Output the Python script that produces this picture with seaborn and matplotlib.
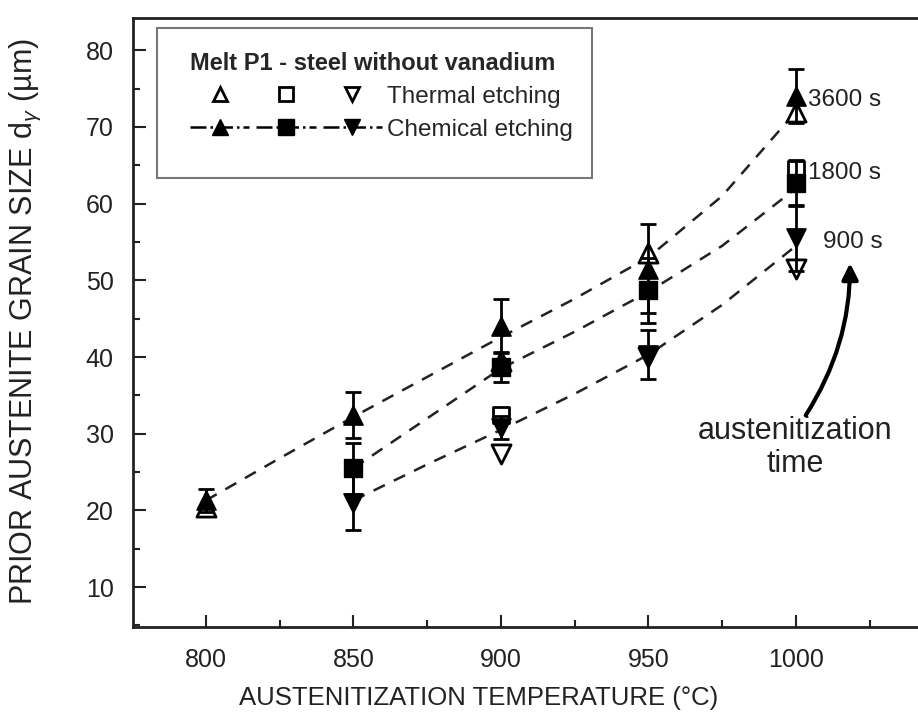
import matplotlib
matplotlib.use('Agg')
import matplotlib.pyplot as plt
import seaborn as sns
from matplotlib.lines import Line2D
from matplotlib.legend_handler import HandlerTuple
from matplotlib.patches import Rectangle
from matplotlib.ticker import MultipleLocator

# chemical etching (filled markers, with error bars)
t_3600 = [800, 850, 900, 950, 1000]
chem_3600 = [21.3, 32.5, 44.0, 51.5, 74.0]
err_3600 = [1.5, 3.0, 3.5, 5.8, 3.5]

t_1800 = [850, 900, 950, 1000]
chem_1800 = [25.5, 38.7, 48.7, 62.7]
err_1800 = [3.3, 2.0, 4.2, 3.0]

t_900 = [850, 900, 950, 1000]
chem_900 = [21.0, 30.8, 40.3, 55.5]
err_900 = [3.5, 1.5, 3.2, 4.3]

# thermal etching (open markers)
th_t_3600 = [800, 900, 950, 1000]
th_3600 = [20.5, 39.5, 53.5, 72.0]
th_t_1800 = [900, 1000]
th_1800 = [32.5, 64.5]
th_t_900 = [900, 950, 1000]
th_900 = [27.3, 40.0, 51.5]

# dashed trend lines
tr_t_3600 = [800, 825, 850, 875, 900, 925, 950, 975, 1000]
tr_3600 = [21.3, 26.8, 32.2, 37.4, 42.6, 47.6, 53.0, 61.0, 72.0]
tr_t_1800 = [850, 875, 900, 925, 950, 975, 1000]
tr_1800 = [25.5, 32.0, 38.5, 43.3, 48.5, 54.5, 62.0]
tr_t_900 = [850, 875, 900, 925, 950, 975, 1000]
tr_900 = [21.3, 26.0, 30.5, 35.2, 40.3, 46.8, 54.5]

sns.set_style('ticks')
plt.rcParams['font.family'] = ['Liberation Sans', 'DejaVu Sans']
plt.rcParams['mathtext.fontset'] = 'custom'
plt.rcParams['mathtext.rm'] = 'Liberation Sans'
plt.rcParams['mathtext.it'] = 'Liberation Sans:italic'

ink = '#222222'
fig = plt.figure(figsize=(9.18, 7.22), dpi=100)
ax = fig.add_axes([133 / 918, 95 / 722, 810.5 / 918, 609 / 722])

dash = (0, (5, 4))
for tt, vv in [(tr_t_3600, tr_3600), (tr_t_1800, tr_1800), (tr_t_900, tr_900)]:
    sns.lineplot(x=tt, y=vv, ax=ax, color=ink, lw=1.8, linestyle=dash, zorder=1)

ms = 190
sns.scatterplot(x=th_t_3600, y=th_3600, ax=ax, marker='^', s=ms, facecolor='white',
                edgecolor='black', linewidth=2, zorder=2)
sns.scatterplot(x=th_t_1800, y=th_1800, ax=ax, marker='s', s=120, facecolor='white',
                edgecolor='black', linewidth=2, zorder=2)
sns.scatterplot(x=th_t_900, y=th_900, ax=ax, marker='v', s=ms, facecolor='white',
                edgecolor='black', linewidth=2, zorder=2)

for tt, vv, ee, mk, sz in [(t_3600, chem_3600, err_3600, '^', ms),
                           (t_1800, chem_1800, err_1800, 's', 150),
                           (t_900, chem_900, err_900, 'v', ms)]:
    ax.errorbar(tt, vv, yerr=ee, fmt='none', ecolor='black', elinewidth=2,
                capsize=6, capthick=2, zorder=3)
    sns.scatterplot(x=tt, y=vv, ax=ax, marker=mk, s=sz, color='black',
                    edgecolor='black', zorder=4)

ax.set_xlim(775.3, 1050)
ax.set_ylim(4.8, 84.2)
ax.set_xticks([800, 850, 900, 950, 1000])
ax.set_yticks([10, 20, 30, 40, 50, 60, 70, 80])
ax.xaxis.set_minor_locator(MultipleLocator(25))
ax.yaxis.set_minor_locator(MultipleLocator(5))
ax.tick_params(which='both', direction='in', width=1.5, labelsize=18, colors=ink)
ax.tick_params(which='major', length=9)
ax.tick_params(which='minor', length=5)
ax.tick_params(axis='x', which='major', pad=15)
ax.tick_params(axis='y', which='major', pad=14)
for s in ax.spines.values():
    s.set_linewidth(2)
    s.set_color(ink)
ax.set_xlabel('AUSTENITIZATION TEMPERATURE (°C)', fontsize=18.5, color=ink)
ax.xaxis.set_label_coords((479 - 133) / 810.5, -0.097)
ax.set_ylabel(r'PRIOR AUSTENITE GRAIN SIZE d$_\gamma$ (µm)', fontsize=22, color=ink)
ax.yaxis.set_label_coords(-(133 - 43) / 810.5, (722 - 322 - 95) / 609)

# legend
ax.add_patch(Rectangle((157 / 918, 1 - 178 / 722), 435 / 918, 150 / 722,
                       transform=fig.transFigure, fill=False, edgecolor='#777777',
                       lw=1.5, zorder=5, clip_on=False))
open_h = tuple(Line2D([], [], marker=m, ls='none', ms=10, mfc='white', mec='black', mew=2)
               for m in ['^', 's', 'v'])
fill_h = tuple(Line2D([], [], marker=m, ls='-.', lw=1.8, ms=11, color='black')
               for m in ['^', 's', 'v'])
leg = ax.legend([open_h, fill_h], ['Thermal etching', 'Chemical etching'],
                handler_map={tuple: HandlerTuple(ndivide=None, pad=0.3)},
                title='Melt P1 - steel without vanadium', fontsize=17.5,
                title_fontproperties={'weight': 'bold', 'size': 17},
                frameon=False, handlelength=7.9, handletextpad=0.2, labelspacing=0.45,
                loc='upper left', bbox_to_anchor=(190 / 918, 1 - 52 / 722),
                bbox_transform=fig.transFigure, borderpad=0, borderaxespad=0)
leg._legend_box.align = 'left'

ax.text(1004.0, 73.5, '3600 s', fontsize=17.5, va='center', ha='left', color=ink)
ax.text(1004.0, 64.0, '1800 s', fontsize=17.5, va='center', ha='left', color=ink)
ax.text(1009.0, 55.0, '900 s', fontsize=17.5, va='center', ha='left', color=ink)
ax.text(999.8, 28.2, 'austenitization\ntime', fontsize=22, ha='center', va='center',
        color=ink, linespacing=1.12)
ax.annotate('', xy=(1018.3, 52.6), xytext=(1003.3, 32.4),
            arrowprops=dict(arrowstyle='-|>', color='black', lw=3, mutation_scale=24,
                            shrinkA=0, shrinkB=2, connectionstyle='arc3,rad=0.15'))

fig.savefig('out.png', dpi=100)
